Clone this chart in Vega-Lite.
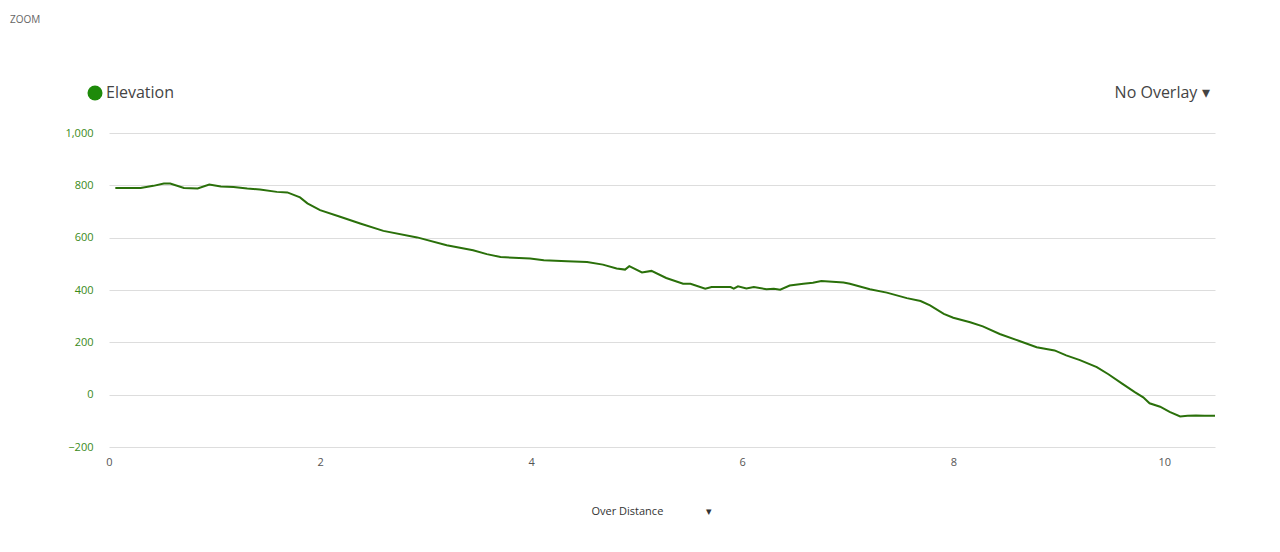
{
  "$schema": "https://vega.github.io/schema/vega-lite/v6.json",
  "autosize": {"type": "none"},
  "padding": {"left": 109, "top": 133, "right": 65, "bottom": 105},
  "width": 1106,
  "height": 314,
  "background": "white",
  "config": {
    "font": "Open Sans",
    "view": {"stroke": null}
  },
  "title": {
    "text": "ZOOM",
    "anchor": "start",
    "frame": "group",
    "dx": -99,
    "dy": -55,
    "fontSize": 10,
    "fontWeight": "normal",
    "color": "#666666",
    "font": "Open Sans"
  },
  "data": {
    "values": [
      {"series": "Elevation", "km": 0.06, "elev": 790},
      {"series": "Elevation", "km": 0.3, "elev": 790},
      {"series": "Elevation", "km": 0.42, "elev": 798},
      {"series": "Elevation", "km": 0.52, "elev": 807},
      {"series": "Elevation", "km": 0.58, "elev": 807},
      {"series": "Elevation", "km": 0.71, "elev": 790},
      {"series": "Elevation", "km": 0.84, "elev": 788},
      {"series": "Elevation", "km": 0.95, "elev": 803},
      {"series": "Elevation", "km": 1.06, "elev": 796},
      {"series": "Elevation", "km": 1.18, "elev": 794},
      {"series": "Elevation", "km": 1.31, "elev": 788},
      {"series": "Elevation", "km": 1.43, "elev": 784},
      {"series": "Elevation", "km": 1.59, "elev": 775},
      {"series": "Elevation", "km": 1.69, "elev": 773},
      {"series": "Elevation", "km": 1.81, "elev": 754},
      {"series": "Elevation", "km": 1.88, "elev": 731},
      {"series": "Elevation", "km": 2.0, "elev": 705},
      {"series": "Elevation", "km": 2.19, "elev": 680},
      {"series": "Elevation", "km": 2.38, "elev": 654},
      {"series": "Elevation", "km": 2.6, "elev": 626},
      {"series": "Elevation", "km": 2.92, "elev": 601},
      {"series": "Elevation", "km": 3.2, "elev": 571},
      {"series": "Elevation", "km": 3.45, "elev": 552},
      {"series": "Elevation", "km": 3.58, "elev": 537},
      {"series": "Elevation", "km": 3.71, "elev": 526},
      {"series": "Elevation", "km": 3.99, "elev": 520},
      {"series": "Elevation", "km": 4.12, "elev": 514},
      {"series": "Elevation", "km": 4.34, "elev": 510},
      {"series": "Elevation", "km": 4.53, "elev": 507},
      {"series": "Elevation", "km": 4.68, "elev": 497},
      {"series": "Elevation", "km": 4.81, "elev": 482},
      {"series": "Elevation", "km": 4.89, "elev": 478},
      {"series": "Elevation", "km": 4.93, "elev": 491},
      {"series": "Elevation", "km": 5.05, "elev": 467},
      {"series": "Elevation", "km": 5.14, "elev": 473},
      {"series": "Elevation", "km": 5.28, "elev": 446},
      {"series": "Elevation", "km": 5.44, "elev": 424},
      {"series": "Elevation", "km": 5.51, "elev": 424},
      {"series": "Elevation", "km": 5.65, "elev": 405},
      {"series": "Elevation", "km": 5.71, "elev": 411},
      {"series": "Elevation", "km": 5.89, "elev": 411},
      {"series": "Elevation", "km": 5.92, "elev": 405},
      {"series": "Elevation", "km": 5.96, "elev": 414},
      {"series": "Elevation", "km": 6.04, "elev": 406},
      {"series": "Elevation", "km": 6.11, "elev": 411},
      {"series": "Elevation", "km": 6.23, "elev": 403},
      {"series": "Elevation", "km": 6.3, "elev": 405},
      {"series": "Elevation", "km": 6.36, "elev": 401},
      {"series": "Elevation", "km": 6.45, "elev": 417},
      {"series": "Elevation", "km": 6.58, "elev": 424},
      {"series": "Elevation", "km": 6.67, "elev": 428},
      {"series": "Elevation", "km": 6.75, "elev": 434},
      {"series": "Elevation", "km": 6.96, "elev": 429},
      {"series": "Elevation", "km": 7.02, "elev": 424},
      {"series": "Elevation", "km": 7.21, "elev": 403},
      {"series": "Elevation", "km": 7.37, "elev": 390},
      {"series": "Elevation", "km": 7.56, "elev": 369},
      {"series": "Elevation", "km": 7.69, "elev": 358},
      {"series": "Elevation", "km": 7.78, "elev": 341},
      {"series": "Elevation", "km": 7.91, "elev": 309},
      {"series": "Elevation", "km": 8.0, "elev": 294},
      {"series": "Elevation", "km": 8.16, "elev": 277},
      {"series": "Elevation", "km": 8.28, "elev": 261},
      {"series": "Elevation", "km": 8.44, "elev": 232},
      {"series": "Elevation", "km": 8.62, "elev": 206},
      {"series": "Elevation", "km": 8.79, "elev": 181},
      {"series": "Elevation", "km": 8.96, "elev": 169},
      {"series": "Elevation", "km": 9.07, "elev": 150},
      {"series": "Elevation", "km": 9.2, "elev": 132},
      {"series": "Elevation", "km": 9.36, "elev": 105},
      {"series": "Elevation", "km": 9.47, "elev": 78},
      {"series": "Elevation", "km": 9.6, "elev": 42},
      {"series": "Elevation", "km": 9.72, "elev": 10},
      {"series": "Elevation", "km": 9.8, "elev": -10},
      {"series": "Elevation", "km": 9.86, "elev": -33},
      {"series": "Elevation", "km": 9.96, "elev": -46},
      {"series": "Elevation", "km": 10.05, "elev": -66},
      {"series": "Elevation", "km": 10.15, "elev": -83},
      {"series": "Elevation", "km": 10.22, "elev": -81},
      {"series": "Elevation", "km": 10.3, "elev": -80},
      {"series": "Elevation", "km": 10.38, "elev": -81},
      {"series": "Elevation", "km": 10.48, "elev": -81}
    ]
  },
  "mark": {"type": "line", "strokeWidth": 2, "interpolate": "linear"},
  "encoding": {
    "x": {
      "field": "km",
      "type": "quantitative",
      "scale": {"domain": [0, 10.48], "nice": false, "zero": false},
      "axis": {
        "values": [0, 2, 4, 6, 8, 10],
        "grid": false,
        "ticks": false,
        "domain": false,
        "labelFlush": false,
        "labelPadding": 9,
        "labelFontSize": 11,
        "labelColor": "#555555",
        "labelFont": "Open Sans",
        "title": "Over Distance\u00a0\u00a0\u00a0\u00a0\u00a0\u00a0\u00a0\u00a0\u00a0\u00a0\u00a0\u00a0\u00a0\u00a0\u00a0▾",
        "titleFont": "Open Sans",
        "titleFontSize": 11,
        "titleFontWeight": "normal",
        "titleColor": "#333333",
        "titleAlign": "left",
        "titleX": 482,
        "titleY": 64,
        "titleBaseline": "middle"
      }
    },
    "y": {
      "field": "elev",
      "type": "quantitative",
      "scale": {"domain": [-200, 1000], "nice": false, "zero": false},
      "axis": {
        "values": [-200, 0, 200, 400, 600, 800, 1000],
        "grid": true,
        "gridColor": "#dddddd",
        "gridWidth": 1,
        "ticks": false,
        "domain": false,
        "labelPadding": 16,
        "labelFontSize": 11,
        "labelColor": "#3a8a18",
        "labelFont": "Open Sans",
        "title": "No Overlay ▾",
        "titleAngle": 0,
        "titleX": 1100,
        "titleY": -41,
        "titleAlign": "right",
        "titleBaseline": "middle",
        "titleFont": "Open Sans",
        "titleFontSize": 16,
        "titleFontWeight": "normal",
        "titleColor": "#444444"
      }
    },
    "color": {
      "field": "series",
      "type": "nominal",
      "scale": {"range": ["#2a700a"]},
      "legend": {
        "title": null,
        "orient": "none",
        "legendX": -22,
        "legendY": -48,
        "symbolType": "circle",
        "symbolSize": 225,
        "symbolFillColor": "#1e8a0a",
        "symbolStrokeColor": "#1e8a0a",
        "symbolStrokeWidth": 0,
        "labelFontSize": 16,
        "labelFont": "Open Sans",
        "labelColor": "#444444",
        "labelOffset": 3
      }
    }
  }
}
